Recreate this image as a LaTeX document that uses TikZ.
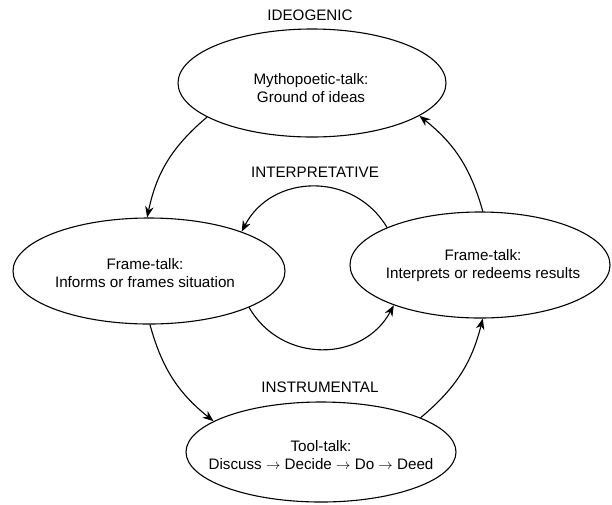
\documentclass[tikz,border=0pt]{standalone}
\usepackage{fontspec}
\setmainfont{Liberation Sans}
\usetikzlibrary{shapes.geometric,arrows.meta}
\begin{document}
\begin{tikzpicture}[x=1pt,y=-1pt,
  oval/.style={draw, ellipse, line width=1.1pt, inner sep=0pt},
  txt/.style={font=\fontsize{15.2}{18}\selectfont, align=center, inner sep=0pt},
  lbl/.style={font=\fontsize{15.2}{18}\selectfont, inner sep=0pt},
  arr/.style={line width=1.1pt, -{Stealth[length=11pt,width=8.5pt,inset=3.5pt]}}]
\useasboundingbox (0,0) rectangle (612,504);
% ellipses
\node[oval, minimum width=268pt, minimum height=108pt] (top) at (312,83) {};
\node[oval, minimum width=272pt, minimum height=106pt] (left) at (149,271) {};
\node[oval, minimum width=260pt, minimum height=106pt] (right) at (480,265) {};
\node[oval, minimum width=270pt, minimum height=100pt] (bottom) at (321,452) {};
% texts inside
\node[txt] (toptext) at (311,88) {Mythopoetic-talk:\\Ground of ideas};
\node[txt] (lefttext) at (145,273) {Frame-talk:\\Informs or frames situation};
\node[txt] (righttext) at (483,266) {Frame-talk:\\Interprets or redeems results};
\node[txt] (bottomtext) at (321,455) {Tool-talk:\\Discuss $\rightarrow$ Decide $\rightarrow$ Do $\rightarrow$ Deed};
% labels
\node[lbl] (ideo) at (310,15) {IDEOGENIC};
\node[lbl] (interp) at (315,172) {INTERPRETATIVE};
\node[lbl] (instr) at (320,387) {INSTRUMENTAL};
% outer cycle
\draw[arr] (top.198) to[bend right=19] (left.92);
\draw[arr] (left.271) to[bend right=18] (bottom.164);
\draw[arr] (bottom.19) to[bend right=18] (right.273);
\draw[arr] (right.87) to[bend right=18] (top.343);
% inner cycle
\draw[arr] (right.158) to[bend right=61, looseness=1.15] (left.23);
\draw[arr] (left.340) to[bend right=61, looseness=1.15] (right.205);
\end{tikzpicture}
\end{document}
